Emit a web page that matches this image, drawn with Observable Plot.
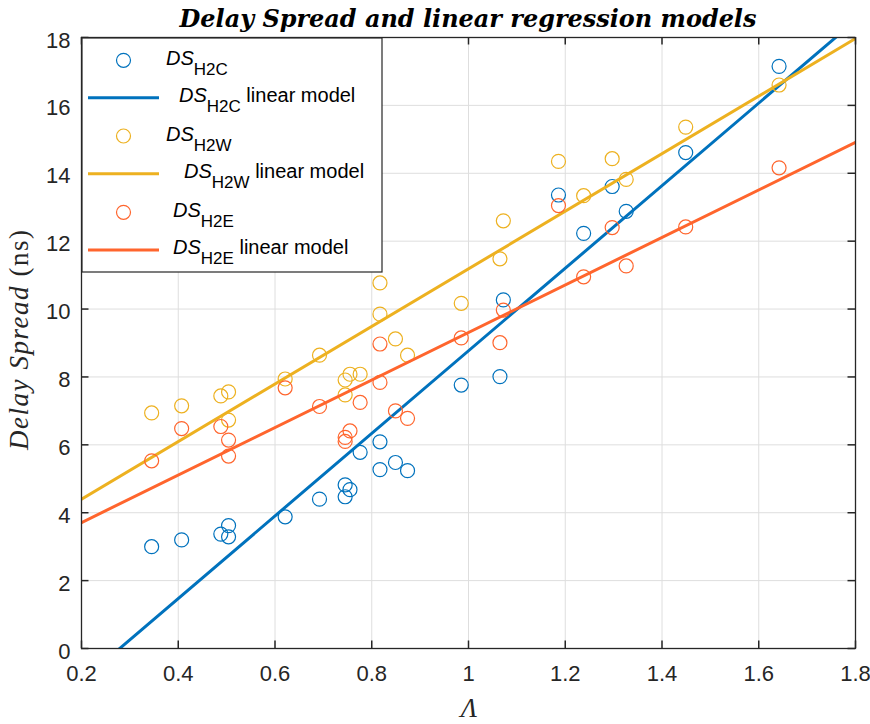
<!DOCTYPE html>
<html>
<head>
<meta charset="utf-8">
<script src="https://cdn.jsdelivr.net/npm/d3@7"></script>
<script src="https://cdn.jsdelivr.net/npm/@observablehq/plot@0.6"></script>
<style>
  body { margin: 0; background: #fff; }
  #chart { position: relative; width: 870px; height: 724px; }
</style>
</head>
<body>
<div id="chart"></div>
<script>
// ---- data ----
const lambda = [0.345, 0.407, 0.488, 0.504, 0.504, 0.621, 0.692, 0.745, 0.745, 0.755, 0.776, 0.817,
                0.817, 0.849, 0.874, 0.985, 1.065, 1.072, 1.186, 1.238, 1.297, 1.326, 1.449, 1.642];
const dsH2C = [3.00, 3.20, 3.37, 3.62, 3.29, 3.88, 4.40, 4.82, 4.47, 4.68, 5.78, 6.09,
               5.27, 5.48, 5.24, 7.76, 8.01, 10.27, 13.36, 12.23, 13.61, 12.88, 14.61, 17.15];
const dsH2W = [6.94, 7.15, 7.44, 7.56, 6.73, 7.94, 8.64, 7.91, 7.47, 8.08, 8.08, 10.77,
               9.85, 9.12, 8.64, 10.17, 11.48, 12.60, 14.35, 13.34, 14.43, 13.82, 15.36, 16.60];
const dsH2E = [5.53, 6.48, 6.54, 6.14, 5.67, 7.68, 7.13, 6.22, 6.10, 6.41, 7.25, 8.97,
               7.84, 7.00, 6.78, 9.15, 9.01, 9.97, 13.05, 10.95, 12.40, 11.27, 12.42, 14.16];

// linear-model end points (x = 0.2 and x = 1.8)
const modelX   = [0.2, 1.8];
const modelH2C = [-0.96, 18.50];
const modelH2W = [4.40, 17.97];
const modelH2E = [3.71, 14.91];

const xTicks = [0.2, 0.4, 0.6, 0.8, 1, 1.2, 1.4, 1.6, 1.8];
const yTicks = [0, 2, 4, 6, 8, 10, 12, 14, 16, 18];

const seriesKeys  = ["H2C", "H2W", "H2E"];
const seriesColor = { H2C: "#0072BD", H2W: "#EDB120", H2E: "#FF652D" };

const titleText = "Delay Spread and linear regression models";
const yLabelItalic = "Delay Spread";
const yLabelUnit = "(ns)";
const xLabelText = "Λ";
const legendSuffix = "linear model";

// ---- layout ----
const W = 870, H = 724;
const mL = 81, mR = 15, mT = 37, mB = 76;
const fw = W - mL - mR, fh = H - mT - mB;
const axisColor = "#262626";
const tickLen = 7.5;

const pts = (ys) => lambda.map((x, i) => ({ x, y: ys[i] }));
const model = (ys) => modelX.map((x, i) => ({ x, y: ys[i] }));
const seriesPts = { H2C: dsH2C, H2W: dsH2W, H2E: dsH2E };
const seriesModel = { H2C: modelH2C, H2W: modelH2W, H2E: modelH2E };

const dataMarks = [];
for (const k of seriesKeys) {
  dataMarks.push(Plot.dot(pts(seriesPts[k]), { x: "x", y: "y", r: 7, stroke: seriesColor[k], fill: "none", strokeWidth: 1.2 }));
  dataMarks.push(Plot.line(model(seriesModel[k]), { x: "x", y: "y", stroke: seriesColor[k], strokeWidth: 3, clip: true }));
}

const chart = Plot.plot({
  width: W, height: H,
  marginLeft: mL, marginRight: mR, marginTop: mT, marginBottom: mB,
  style: { fontFamily: "'Liberation Sans', Arial, sans-serif", fontSize: "22px", color: axisColor, background: "#fff", overflow: "visible" },
  x: { domain: [0.2, 1.8] },
  y: { domain: [0, 18] },
  marks: [
    Plot.gridX(xTicks, { stroke: "#dedede", strokeOpacity: 1, strokeWidth: 1 }),
    Plot.gridY(yTicks, { stroke: "#dedede", strokeOpacity: 1, strokeWidth: 1 }),
    ...dataMarks,
    Plot.frame({ stroke: axisColor, strokeWidth: 1.3 }),
    Plot.tickX(xTicks, { x: d => d, stroke: axisColor, strokeWidth: 1.5, insetTop: fh - tickLen }),
    Plot.tickX(xTicks, { x: d => d, stroke: axisColor, strokeWidth: 1.5, insetBottom: fh - tickLen }),
    Plot.tickY(yTicks, { y: d => d, stroke: axisColor, strokeWidth: 1.5, insetRight: fw - tickLen }),
    Plot.tickY(yTicks, { y: d => d, stroke: axisColor, strokeWidth: 1.5, insetLeft: fw - tickLen }),
    Plot.axisX(xTicks, { anchor: "bottom", tickSize: 0, tickPadding: 17, label: null, tickFormat: d => String(d), fill: axisColor }),
    Plot.axisY(yTicks, { anchor: "left", tickSize: 0, tickPadding: 11, label: null, tickFormat: d => String(d), dy: 3, fill: axisColor })
  ]
});

document.getElementById("chart").appendChild(chart);

// ---- title, axis labels, legend (rich text) ----
const svg = d3.select(chart);
const serif = "'Liberation Serif', 'Times New Roman', serif";

const title = svg.append("text")
  .attr("x", 468).attr("y", 27)
  .attr("text-anchor", "middle")
  .style("font-family", "'DejaVu Serif', serif")
  .style("font-weight", "bold").style("font-style", "italic")
  .style("font-size", "22px").attr("fill", "#000")
  .text(titleText);
{
  const w = title.node().getComputedTextLength();
  if (w > 0) title.style("font-size", (22 * 577 / w).toFixed(2) + "px");
}

const yl = svg.append("text")
  .attr("transform", "translate(28,340) rotate(-90)")
  .attr("text-anchor", "middle")
  .attr("textLength", 220).attr("lengthAdjust", "spacing")
  .style("font-family", serif).style("font-size", "27px").attr("fill", axisColor);
yl.append("tspan").style("font-style", "italic").text(yLabelItalic);
yl.append("tspan").text("\u00a0" + yLabelUnit);

svg.append("text")
  .attr("x", 469).attr("y", 717)
  .attr("text-anchor", "middle")
  .style("font-family", serif).style("font-style", "italic").style("font-size", "27px")
  .attr("fill", axisColor)
  .text(xLabelText);

// legend
const lg = svg.append("g").attr("text-anchor", "start");
lg.append("rect").attr("x", 82).attr("y", 38).attr("width", 300).attr("height", 234)
  .attr("fill", "#fff").attr("stroke", axisColor).attr("stroke-width", 1.2);

const entries = [
  { key: "H2C", kind: "dot",  cy: 60.3,  tx: 166, ty: 65 },
  { key: "H2C", kind: "line", cy: 97.7,  tx: 179, ty: 101.7 },
  { key: "H2W", kind: "dot",  cy: 136,   tx: 166, ty: 140.5 },
  { key: "H2W", kind: "line", cy: 173.7, tx: 184, ty: 177.5 },
  { key: "H2E", kind: "dot",  cy: 212.3, tx: 173, ty: 216.7 },
  { key: "H2E", kind: "line", cy: 250,   tx: 173, ty: 254 }
];
const sans = "'Liberation Sans', Arial, sans-serif";
for (const e of entries) {
  if (e.kind === "dot") {
    lg.append("circle").attr("cx", 123.5).attr("cy", e.cy).attr("r", 7)
      .attr("fill", "none").attr("stroke", seriesColor[e.key]).attr("stroke-width", 1.2);
  } else {
    lg.append("line").attr("x1", 88).attr("x2", 159).attr("y1", e.cy).attr("y2", e.cy)
      .attr("stroke", seriesColor[e.key]).attr("stroke-width", 3);
  }
  const t = lg.append("text").attr("x", e.tx).attr("y", e.ty)
    .attr("text-anchor", "start")
    .style("font-family", sans).style("font-size", "20px").attr("fill", "#000");
  t.append("tspan").style("font-style", "italic").text("DS");
  t.append("tspan").attr("dy", 10).style("font-size", "17px").text(e.key);
  if (e.kind === "line") {
    t.append("tspan").attr("dy", -10).style("font-size", "20px").text("\u00a0" + legendSuffix);
  }
}
</script>
</body>
</html>
